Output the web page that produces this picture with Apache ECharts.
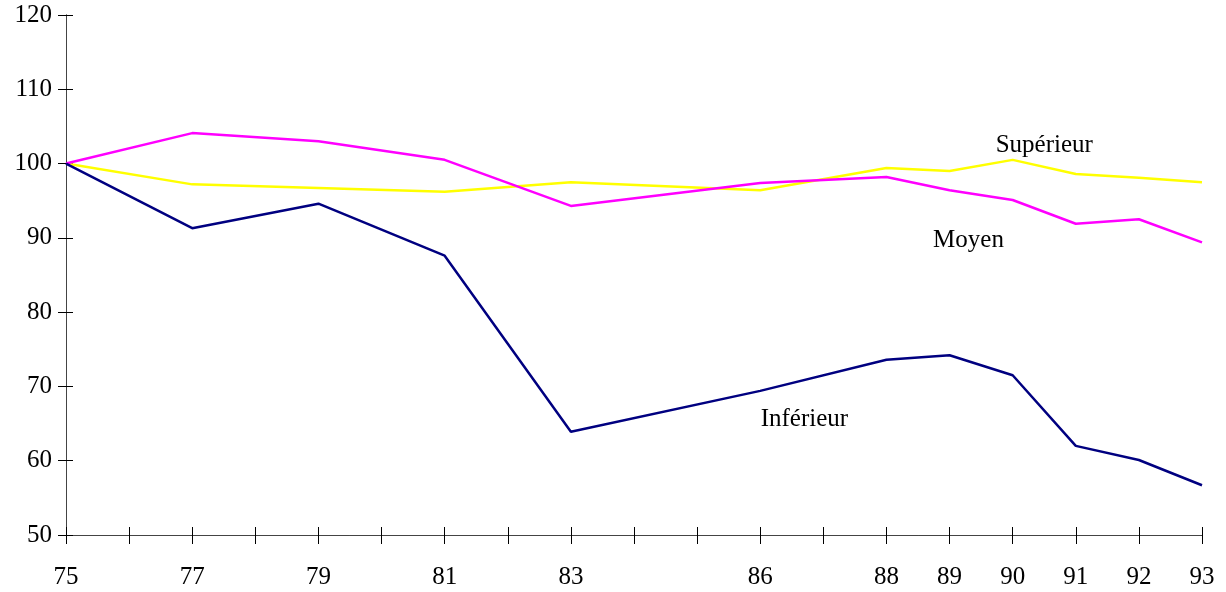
<!DOCTYPE html>
<html>
<head>
<meta charset="utf-8">
<script src="https://cdn.jsdelivr.net/npm/echarts@6/dist/echarts.min.js"></script>
<style>
  html, body { margin: 0; padding: 0; background: #fff; }
  #chart { width: 1226px; height: 592px; }
</style>
</head>
<body>
<div id="chart"></div>
<script>
const years = [75, 77, 79, 81, 83, 86, 88, 89, 90, 91, 92, 93]
const inferieur = [100, 91.3, 94.6, 87.6, 63.9, 69.4, 73.6, 74.2, 71.5, 62.0, 60.1, 56.7]
const moyen = [100, 104.1, 103.0, 100.5, 94.3, 97.4, 98.2, 96.4, 95.1, 91.9, 92.5, 89.4]
const superieur = [100, 97.2, 96.7, 96.2, 97.5, 96.4, 99.4, 99.0, 100.5, 98.6, 98.1, 97.5]

const font = 'Liberation Serif, Times New Roman, serif'
const fontSize = 25
const pairs = (vals) => years.map((y, i) => [y, vals[i]])

// text label placed in data space next to its line
function seriesLabel(text, coord) {
    return {
        symbol: 'rect',
        symbolSize: 1,
        silent: true,
        itemStyle: { color: 'rgba(0,0,0,0)' },
        label: { show: true, position: 'inside', formatter: text, color: '#000', fontFamily: font, fontSize: fontSize },
        data: [{ coord: coord }]
    }
}

const lineCol = { color: '#444', width: 1 }
const tickStyle = { color: '#000', width: 1 }

const option = {
    animation: false,
    grid: { left: 66, right: 24, top: 15, bottom: 57 },
    xAxis: [
        {
            type: 'value', min: 75, max: 93, interval: 1,
            axisLine: { show: true, lineStyle: lineCol },
            axisTick: { show: true, length: 9, lineStyle: tickStyle },
            splitLine: { show: false },
            axisLabel: {
                margin: 30, fontFamily: font, fontSize: fontSize, color: '#000',
                formatter: v => years.includes(v) ? String(v) : ''
            }
        },
        {
            type: 'value', min: 75, max: 93, interval: 1, position: 'bottom',
            axisLine: { show: true, lineStyle: lineCol },
            axisTick: { show: true, inside: true, length: 8, lineStyle: tickStyle },
            splitLine: { show: false },
            axisLabel: { show: false }
        }
    ],
    yAxis: [
        {
            type: 'value', min: 50, max: 120, interval: 10,
            axisLine: { show: true, lineStyle: lineCol },
            axisTick: { show: true, length: 8, lineStyle: tickStyle },
            splitLine: { show: false },
            axisLabel: { margin: 14, fontFamily: font, fontSize: fontSize, color: '#000' }
        },
        {
            type: 'value', min: 50, max: 120, interval: 10, position: 'left',
            axisLine: { show: true, lineStyle: lineCol },
            axisTick: { show: true, inside: true, length: 7, lineStyle: tickStyle },
            splitLine: { show: false },
            axisLabel: { show: false }
        }
    ],
    series: [
        {
            name: 'Supérieur', type: 'line', symbol: 'none',
            lineStyle: { color: '#FFFF00', width: 2.5 },
            data: pairs(superieur),
            markPoint: seriesLabel('Supérieur', [90.5, 102.5])
        },
        {
            name: 'Moyen', type: 'line', symbol: 'none',
            lineStyle: { color: '#FF00FF', width: 2.5 },
            data: pairs(moyen),
            markPoint: seriesLabel('Moyen', [89.3, 89.7])
        },
        {
            name: 'Inférieur', type: 'line', symbol: 'none',
            lineStyle: { color: '#000080', width: 2.5 },
            data: pairs(inferieur),
            markPoint: seriesLabel('Inférieur', [86.7, 65.5])
        }
    ]
}

const chart = echarts.init(document.getElementById('chart'))
chart.setOption(option)
</script>
</body>
</html>
